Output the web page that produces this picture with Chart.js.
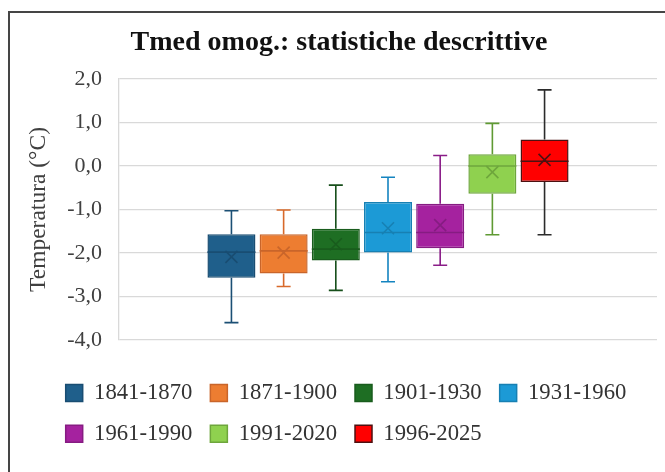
<!DOCTYPE html>
<html>
<head>
<meta charset="utf-8">
<script src="https://cdn.jsdelivr.net/npm/chart.js@4.4.0/dist/chart.umd.min.js"></script>
<style>
    html, body { margin: 0; padding: 0; background: #fff; }
    #wrap { position: relative; width: 665px; height: 472px; overflow: hidden; }
    #frame { position: absolute; left: 8px; top: 11px; width: 700px; height: 500px; border: 2px solid #454545; }
    #chart { position: absolute; left: 0; top: 0; }
</style>
</head>
<body>
<div id="wrap">
    <div id="frame"></div>
    <canvas id="chart" width="665" height="472"></canvas>
</div>
<script>
// box plot statistics per period (deg C)
const periods = ["1841-1870", "1871-1900", "1901-1930", "1931-1960", "1961-1990", "1991-2020", "1996-2025"];
const minVals = [-3.60, -2.77, -2.86, -2.66, -2.28, -1.58, -1.58];
const q1Vals = [-2.57, -2.47, -2.17, -1.99, -1.89, -0.64, -0.37];
const medianVals = [-1.98, -1.95, -1.91, -1.53, -1.53, 0.00, 0.11];
const q3Vals = [-1.57, -1.57, -1.44, -0.83, -0.87, 0.27, 0.61];
const maxVals = [-1.03, -1.01, -0.44, -0.26, 0.24, 0.98, 1.75];
const meanVals = [-2.09, -1.99, -1.80, -1.43, -1.36, -0.14, 0.14];

const fillColors = ["#1f5f8b", "#ed7d31", "#1e6e23", "#1c9ad6", "#a5229f", "#8fd14f", "#ff0000"];
const edgeColors = ["#194d72", "#c9652a", "#195c1d", "#1780b3", "#861c82", "#6ea63c", "#4d1111"];
const whiskerColors = ["#1b4f74", "#d8692a", "#174f1b", "#1484c0", "#8a1d88", "#5f9a33", "#2b2b2b"];

const serif = "'Liberation Serif', 'Times New Roman', serif";

// whiskers, caps, median and mean marker on top of the floating bars
const boxMarks = {
    id: "boxMarks",
    afterDatasetsDraw(chart) {
        const ctx = chart.ctx;
        const y = chart.scales.y;
        chart.data.datasets.forEach((ds, i) => {
            const bar = chart.getDatasetMeta(i).data[0];
            if (!bar) return;
            const x = bar.x;
            const half = bar.width / 2;
            const cap = 7;
            const pMin = y.getPixelForValue(minVals[i]);
            const pMax = y.getPixelForValue(maxVals[i]);
            const pQ1 = y.getPixelForValue(q1Vals[i]);
            const pQ3 = y.getPixelForValue(q3Vals[i]);
            const pMed = y.getPixelForValue(medianVals[i]);
            const pMean = y.getPixelForValue(meanVals[i]);
            ctx.save();
            ctx.lineWidth = 1.6;
            ctx.strokeStyle = whiskerColors[i];
            ctx.beginPath();
            ctx.moveTo(x, pQ3); ctx.lineTo(x, pMax);
            ctx.moveTo(x - cap, pMax); ctx.lineTo(x + cap, pMax);
            ctx.moveTo(x, pQ1); ctx.lineTo(x, pMin);
            ctx.moveTo(x - cap, pMin); ctx.lineTo(x + cap, pMin);
            ctx.stroke();
            ctx.strokeStyle = edgeColors[i];
            ctx.beginPath();
            ctx.moveTo(x - half, pMed); ctx.lineTo(x + half, pMed);
            ctx.stroke();
            const m = 6;
            ctx.beginPath();
            ctx.moveTo(x - m, pMean - m); ctx.lineTo(x + m, pMean + m);
            ctx.moveTo(x - m, pMean + m); ctx.lineTo(x + m, pMean - m);
            ctx.stroke();
            ctx.restore();
        });
    },
};

// keep the legend rows left-aligned like the original
const legendShift = {
    id: "legendShift",
    afterLayout(chart) {
        if (chart.legend) chart.legend.left = 47.7;
    },
};

new Chart(document.getElementById("chart"), {
    type: "bar",
    data: {
        labels: [""],
        datasets: periods.map((p, i) => ({
            label: p,
            data: [[q1Vals[i], q3Vals[i]]],
            backgroundColor: fillColors[i],
            borderColor: edgeColors[i],
            borderWidth: 1.5,
            borderSkipped: false,
        })),
    },
    options: {
        responsive: false,
        animation: false,
        devicePixelRatio: 1,
        categoryPercentage: 0.679,
        barPercentage: 0.92,
        layout: { padding: { left: 21, right: 8, top: 0, bottom: 17 } },
        plugins: {
            title: {
                display: true,
                text: "Tmed omog.: statistiche descrittive",
                color: "#111",
                font: { family: serif, size: 28, weight: "bold" },
                padding: { top: 26, bottom: 19.4 },
            },
            legend: {
                position: "bottom",
                align: "start",
                labels: {
                    boxWidth: 17,
                    boxHeight: 17,
                    padding: 18,
                    color: "#333",
                    font: { family: serif, size: 22.7 },
                },
            },
            tooltip: { enabled: false },
        },
        scales: {
            x: {
                ticks: { display: false },
                grid: { display: false },
                border: { display: false },
                afterFit: (s) => { s.height = 23.6; },
            },
            y: {
                min: -4,
                max: 2,
                ticks: {
                    stepSize: 1,
                    padding: 17,
                    color: "#404040",
                    font: { family: serif, size: 22 },
                    callback: (v) => v.toFixed(1).replace(".", ","),
                },
                grid: { color: "#d9d9d9", lineWidth: 1.3, drawTicks: false },
                border: { color: "#d9d9d9", width: 1.3 },
                title: {
                    display: true,
                    text: "Temperatura (°C)",
                    color: "#404040",
                    font: { family: serif, size: 23.5 },
                },
                afterFit: (s) => { s.width = 98; },
            },
        },
    },
    plugins: [boxMarks, legendShift],
});
</script>
</body>
</html>
